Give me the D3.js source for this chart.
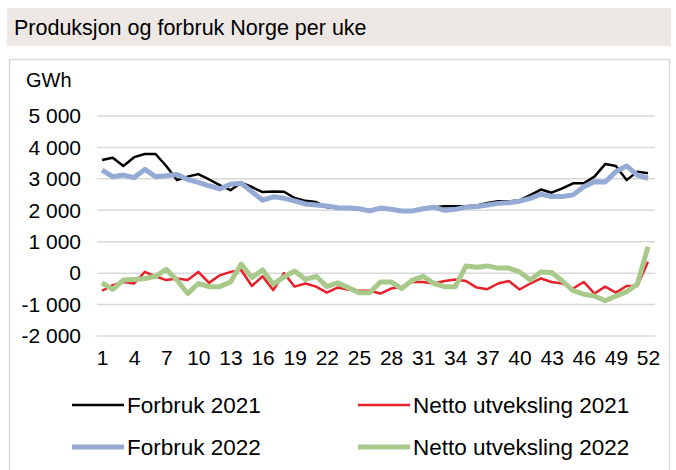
<!DOCTYPE html>
<html>
<head>
<meta charset="utf-8">
<script src="https://cdn.jsdelivr.net/npm/d3@7"></script>
<style>
    body { margin: 0; background: #fff; }
    svg text { font-family: "Liberation Sans", Arial, sans-serif; fill: #000; }
    line.grid { stroke: #d9d9d9; stroke-width: 1.5; }
    path.series { fill: none; stroke-linejoin: round; }
</style>
</head>
<body>
<svg id="chart"></svg>
<script>
    var W = 676, H = 470;

    // weeks 1..52
    var weeks = d3.range(1, 53);
    var weekTicks = [1, 4, 7, 10, 13, 16, 19, 22, 25, 28, 31, 34, 37, 40, 43, 46, 49, 52];
    var valueTicks = [-2000, -1000, 0, 1000, 2000, 3000, 4000, 5000];

    var forbruk2021 = [3600, 3670, 3410, 3690, 3790, 3790, 3410, 2960, 3070, 3150,
                       2980, 2800, 2640, 2880, 2740, 2580, 2600, 2590, 2390, 2300,
                       2260, 2100, 2070, 2070, 2050, 2000, 2050, 2030, 1980, 1980,
                       2050, 2100, 2130, 2130, 2130, 2150, 2230, 2290, 2280, 2320,
                       2480, 2660, 2560, 2700, 2860, 2860, 3070, 3470, 3410, 2960,
                       3230, 3180];
    var netto2021 = [-560, -380, -280, -330, 40, -100, -220, -170, -220, 40,
                     -310, -70, 40, 100, -410, -100, -540, 0, -430, -330,
                     -430, -620, -460, -520, -560, -560, -650, -490, -430, -280,
                     -280, -330, -250, -200, -250, -460, -510, -330, -250, -520,
                     -330, -170, -280, -330, -490, -280, -650, -430, -620, -410,
                     -410, 360];
    var forbruk2022 = [3280, 3070, 3120, 3040, 3300, 3070, 3100, 3140, 2980, 2890,
                       2780, 2680, 2830, 2860, 2590, 2320, 2430, 2380, 2300, 2200,
                       2170, 2140, 2080, 2070, 2050, 1980, 2070, 2030, 1980, 1980,
                       2050, 2100, 2000, 2030, 2100, 2120, 2170, 2220, 2240, 2290,
                       2380, 2510, 2440, 2440, 2490, 2750, 2910, 2900, 3230, 3410,
                       3120, 3020];
    var netto2022 = [-310, -520, -220, -200, -170, -100, 120, -220, -650, -330,
                     -430, -430, -280, 290, -140, 100, -350, -120, 70, -200,
                     -100, -430, -310, -460, -620, -620, -280, -280, -490, -220,
                     -100, -330, -430, -430, 230, 190, 230, 160, 160, 40,
                     -220, 40, 20, -250, -560, -670, -730, -880, -730, -590,
                     -350, 840];

    var seriesNames = ["Forbruk 2021", "Netto utveksling 2021", "Forbruk 2022", "Netto utveksling 2022"];
    var seriesColors = ["#000000", "#e8202a", "#95aad5", "#a9c98b"];
    var seriesWidths = [2.5, 2.5, 5, 5];
    var seriesValues = [forbruk2021, netto2021, forbruk2022, netto2022];

    var nb = d3.formatLocale({decimal: ",", thousands: " ", grouping: [3], currency: ["", ""], minus: "-"});
    var fmt = nb.format(",d");

    var svg = d3.select("#chart").attr("width", W).attr("height", H);

    // title band
    svg.append("rect").attr("x", 7).attr("y", 8).attr("width", 664).attr("height", 38)
        .attr("fill", "#ede8e4");
    svg.append("text").attr("x", 14).attr("y", 35).attr("font-size", 21.5)
        .text("Produksjon og forbruk Norge per uke");

    // chart frame
    svg.append("rect").attr("x", 9.5).attr("y", 59.5).attr("width", 660).attr("height", 420)
        .attr("fill", "#fff").attr("stroke", "#d9d9d9").attr("stroke-width", 1.5);

    svg.append("text").attr("x", 26).attr("y", 87).attr("font-size", 20).text("GWh");

    var x = d3.scaleLinear().domain([1, 52]).range([102, 648]);
    var y = d3.scaleLinear().domain([-2000, 5000]).range([336, 116]);

    // gridlines
    svg.append("g").selectAll("line").data(valueTicks).enter()
        .append("line").classed("grid", true)
        .attr("x1", 97).attr("x2", 655)
        .attr("y1", function(d){ return y(d); })
        .attr("y2", function(d){ return y(d); });

    // y axis labels
    var yAxis = d3.axisLeft(y).tickValues(valueTicks).tickFormat(fmt).tickSize(0).tickPadding(0);
    var yg = svg.append("g").attr("transform", "translate(81,0)").call(yAxis);
    yg.select(".domain").remove();
    yg.selectAll("text").attr("font-size", 21).attr("font-family", "Liberation Sans, Arial, sans-serif");

    // x axis labels
    var xAxis = d3.axisBottom(x).tickValues(weekTicks).tickFormat(d3.format("d")).tickSize(0).tickPadding(0);
    var xg = svg.append("g").attr("transform", "translate(0,350)").call(xAxis);
    xg.select(".domain").remove();
    xg.selectAll("text").attr("font-size", 21).attr("font-family", "Liberation Sans, Arial, sans-serif");

    var line = d3.line()
        .x(function(d, i){ return x(weeks[i]); })
        .y(function(d){ return y(d); });

    seriesValues.forEach(function(vals, k) {
        svg.append("path").classed("series", true)
            .attr("d", line(vals))
            .attr("stroke", seriesColors[k])
            .attr("stroke-width", seriesWidths[k]);
    });

    // legend
    var legendPos = [[72, 405], [358, 405], [72, 447], [358, 447]];
    seriesNames.forEach(function(name, k) {
        var p = legendPos[k];
        svg.append("line").attr("x1", p[0]).attr("x2", p[0] + 52)
            .attr("y1", p[1]).attr("y2", p[1])
            .attr("stroke", seriesColors[k]).attr("stroke-width", seriesWidths[k]);
        svg.append("text").attr("x", p[0] + 55).attr("y", p[1] + 8)
            .attr("font-size", 22.5).text(name);
    });
</script>
</body>
</html>
